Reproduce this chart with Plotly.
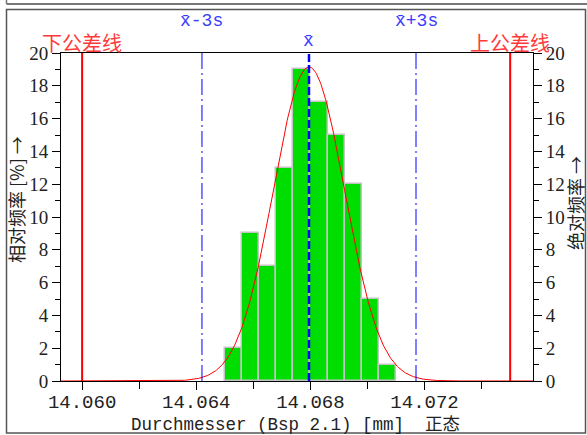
import numpy as np
import plotly.graph_objects as go

# ---- data ----
bin_start = 14.0650
bin_width = 0.0006
counts = [2, 9, 7, 13, 19, 17, 15, 12, 5, 1]
mean = 14.06795
sigma = 0.00125
lsl = 14.060
usl = 14.075
n_total = sum(counts)
x_tickvals = [14.060, 14.064, 14.068, 14.072]
x_ticktext = ["14.060", "14.064", "14.068", "14.072"]
y_tickvals = [0, 2, 4, 6, 8, 10, 12, 14, 16, 18, 20]
x_range = [14.05926, 14.07580]
y_range = [0, 20]

centers = [bin_start + bin_width * (i + 0.5) for i in range(len(counts))]
rel = [100.0 * c / n_total for c in counts]

# fitted normal curve (expected count per bin)
xc = np.linspace(x_range[0], x_range[1], 600)
yc = n_total * bin_width / (sigma * np.sqrt(2 * np.pi)) * np.exp(-0.5 * ((xc - mean) / sigma) ** 2)

W, H = 587, 435
L, R, T, B = 61, 54, 53, 54
pw, ph = W - L - R, H - T - B


def px(xp):
    return (xp - L) / pw


def py(yp):
    return (H - B - yp) / ph


fig = go.Figure()
fig.add_trace(go.Bar(x=centers, y=rel, width=bin_width,
                     marker=dict(color="rgb(0,221,0)", line=dict(color="#c4c4c4", width=1.5)),
                     hoverinfo="skip", showlegend=False))
fig.add_trace(go.Scatter(x=centers, y=counts, yaxis="y2", mode="markers",
                         marker=dict(opacity=0), hoverinfo="skip", showlegend=False))

blue = "#0000ff"
red = "#ff0000"
shapes = []
# tolerance lines
for v in (lsl, usl):
    shapes.append(dict(type="line", xref="x", yref="y", x0=v, x1=v, y0=0, y1=20,
                       line=dict(color=red, width=2)))
# +-3s
for v in (mean - 3 * sigma, mean + 3 * sigma):
    shapes.append(dict(type="line", xref="x", yref="y", x0=v, x1=v, y0=0, y1=20,
                       line=dict(color=blue, width=1, dash="16px,4px,2px,4px")))
# mean
shapes.append(dict(type="line", xref="x", yref="y", x0=mean, x1=mean, y0=0, y1=20,
                   line=dict(color=blue, width=2.5, dash="8px,3px")))

fig.add_trace(go.Scatter(x=xc, y=yc, mode="lines", line=dict(color=red, width=1),
                         hoverinfo="skip", showlegend=False))

# panel frame
shapes.append(dict(type="rect", xref="paper", yref="paper", x0=px(6.5), x1=px(585.5),
                   y0=py(433), y1=py(9.5), line=dict(color="#555555", width=1.5), layer="below"))
shapes.append(dict(type="line", xref="paper", yref="paper", x0=px(6.5), x1=px(590),
                   y0=py(4), y1=py(4), line=dict(color="#777777", width=2)))
shapes.append(dict(type="line", xref="paper", yref="paper", x0=px(6.5), x1=px(6.5),
                   y0=py(-2), y1=py(4), line=dict(color="#777777", width=1.5)))

cjk = "Noto Sans CJK SC"
mono = "Liberation Mono, " + cjk
serif = "Liberation Serif, " + cjk
tblue = "#3a3aff"
tred = "#ff3a3a"
dark = "#222222"


def note(x, xref, y, text, font, angle=0):
    return dict(x=x, xref=xref, y=y, yref="paper", text=text, showarrow=False,
                xanchor="center", yanchor="middle", textangle=angle, font=font)


ann = [
    note(lsl, "x", py(42), "下公差线", dict(family=cjk, size=20, color=tred)),
    note(usl, "x", py(42), "上公差线", dict(family=cjk, size=20, color=tred)),
    note(mean - 3 * sigma, "x", py(21), "x\u0304-3s", dict(family=mono, size=18, color=tblue)),
    note(mean + 3 * sigma, "x", py(21), "x\u0304+3s", dict(family=mono, size=18, color=tblue)),
    note(mean, "x", py(41), "x\u0304", dict(family=mono, size=18, color=tblue)),
    note(px(16), "paper", py(200), "相对频率 [%] →", dict(family=cjk, size=18, color=dark), -90),
    note(px(575), "paper", py(203), "绝对频率 →", dict(family=cjk, size=18, color=dark), -90),
    note(px(295), "paper", py(425), "Durchmesser (Bsp 2.1) [mm]  正态",
         dict(family=mono, size=17.5, color=dark)),
]

axis_common = dict(showgrid=False, zeroline=False, showline=True, linecolor="black", linewidth=1,
                   automargin=False)

fig.update_layout(
    width=W, height=H, margin=dict(l=L, r=R, t=T, b=B, autoexpand=False),
    paper_bgcolor="white", plot_bgcolor="white", bargap=0,
    shapes=shapes, annotations=ann, showlegend=False,
    xaxis=dict(range=x_range, tickmode="array", tickvals=x_tickvals, ticktext=x_ticktext,
               ticks="outside", ticklen=8, tickcolor="black", mirror=True,
               ticklabelstandoff=-5,
               tickfont=dict(family=mono, size=19, color=dark),
               minor=dict(tickmode="linear", tick0=14.060, dtick=0.002, ticks="outside",
                          ticklen=7, tickcolor="black", showgrid=False),
               **axis_common),
    yaxis=dict(range=y_range, tickmode="array", tickvals=y_tickvals, ticks="outside", ticklen=8,
               tickcolor="black", tickfont=dict(family=serif, size=19, color=dark),
               minor=dict(tickmode="linear", tick0=0, dtick=1, ticks="outside", ticklen=5,
                          tickcolor="black", showgrid=False),
               **axis_common),
    yaxis2=dict(range=y_range, overlaying="y", side="right", tickmode="array", tickvals=y_tickvals,
                ticks="outside", ticklen=8, tickcolor="black",
                tickfont=dict(family=serif, size=19, color=dark),
                minor=dict(tickmode="linear", tick0=0, dtick=1, ticks="outside", ticklen=5,
                           tickcolor="black", showgrid=False),
                **axis_common),
)

fig.write_html("out.html", config={"displayModeBar": False},
               post_script="document.body.style.margin='0';")
